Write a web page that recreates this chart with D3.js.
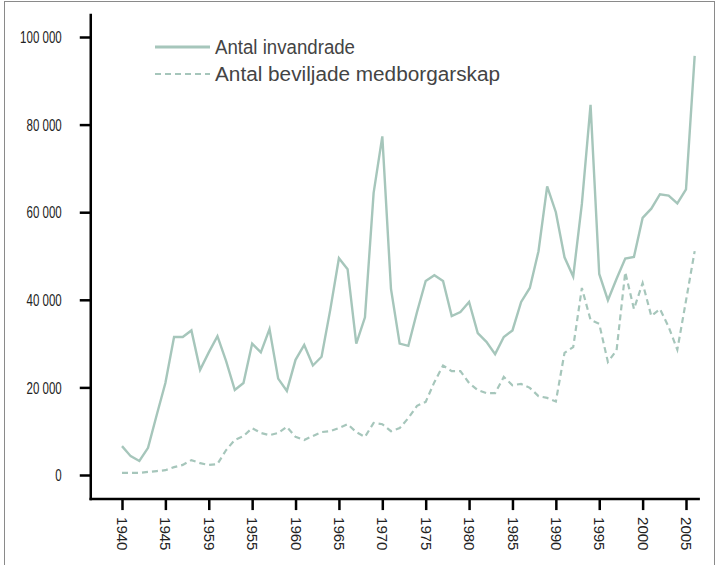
<!DOCTYPE html>
<html><head><meta charset="utf-8">
<script src="https://cdn.jsdelivr.net/npm/d3@7/dist/d3.min.js"></script>
<style>
html,body{margin:0;padding:0;background:#fff;}
svg{display:block;}
</style></head>
<body>
<script>
const years = d3.range(1940, 2007);
const invandrade = [6.6,4.3,3.2,6.2,13.7,21,31.5,31.5,33,24,28,31.7,26,19.4,21,30,28,33.3,22,19.2,
  26.3,29.7,25,27,37.7,49.5,47,30,36,64.4,77.3,42.5,30,29.5,37.2,44.3,45.6,44.3,36.3,37.2,
  39.5,32.4,30.4,27.6,31.5,33,39.5,42.7,51.1,65.9,60.0,49.7,45.3,61.9,84.5,45.9,39.9,44.8,49.4,49.8,
  58.7,60.8,64.1,63.8,62.0,65.2,95.7].map(v => v*1000);
const medborgarskap = [0.5,0.5,0.5,0.7,0.9,1.1,1.8,2.3,3.4,2.7,2.3,2.5,5.7,8,8.9,10.7,9.6,9.1,9.6,11,
  8.7,8,8.9,9.8,10,10.7,11.6,9.8,8.7,11.9,11.6,10,10.7,13,15.8,16.7,21.2,25,23.7,23.7,
  21,19.4,18.7,18.7,22.4,20.5,20.8,19.9,18,17.6,16.8,27.9,29.2,42.7,35.4,34.5,25.8,28.5,46.3,37.9,
  43.8,36.3,37.9,33.8,28.6,39.8,51.1].map(v => v*1000);
const xTickYears = [1940,1945,1950,1955,1960,1965,1970,1975,1980,1985,1990,1995,2000,2005];
const xTickLabels = ["1940","1945","1959","1955","1960","1965","1970","1975","1980","1985","1990","1995","2000","2005"];
const yTicks = [0,20000,40000,60000,80000,100000];
const seriesNames = ["Antal invandrade","Antal beviljade medborgarskap"];

const W = 716, H = 565;
const color = "#a6c6bb";
const font = "'Liberation Sans',Arial,sans-serif";

const svg = d3.select("body").append("svg").attr("width", W).attr("height", H);
svg.append("rect").attr("x",4.5).attr("y",1.5).attr("width",710).attr("height",620)
  .attr("fill","none").attr("stroke","#8a8a8a").attr("stroke-width",1);

const x = d3.scaleLinear().domain([1940, 2005]).range([122, 686]);
const y = d3.scaleLinear().domain([0, 100000]).range([475, 37]);

const axisColor = "#000";
const x0 = x(1936.4), x1 = x(2006.6);
const yTop = y(105300), yBot = y(-5500);

// axis lines
svg.append("line").attr("x1",x0).attr("x2",x0).attr("y1",yTop).attr("y2",yBot+1.25)
  .attr("stroke",axisColor).attr("stroke-width",2.5);
svg.append("line").attr("x1",x0-1.25).attr("x2",x1).attr("y1",yBot).attr("y2",yBot)
  .attr("stroke",axisColor).attr("stroke-width",2.5);

// y axis
const yAxis = d3.axisLeft(y).tickValues(yTicks).tickSize(11).tickPadding(6)
  .tickFormat(d => d3.format(",")(d).replace(/,/g, " "));
const gy = svg.append("g").attr("transform",`translate(${x0},0)`).call(yAxis);
gy.select(".domain").remove();
gy.selectAll(".tick line").attr("stroke",axisColor).attr("stroke-width",2.5);
gy.selectAll(".tick text").attr("fill","#222").style("font-family",font).style("font-size","16px")
  .attr("x",0).attr("dy","0.36em").attr("transform","translate(-29,0) scale(0.72,1)");

// x axis
const xAxis = d3.axisBottom(x).tickValues(xTickYears).tickSize(11)
  .tickFormat((d,i) => xTickLabels[i]);
const gx = svg.append("g").attr("transform",`translate(0,${yBot})`).call(xAxis);
gx.select(".domain").remove();
gx.selectAll(".tick line").attr("stroke",axisColor).attr("stroke-width",2.5);
gx.selectAll(".tick text").attr("fill","#222").style("font-family",font).style("font-size","15px")
  .attr("transform","rotate(90)").attr("text-anchor","start").attr("dy","0.36em").attr("x",18).attr("y",0);

// lines
const line = d3.line().x((d,i) => x(years[i])).y(d => y(d));
svg.append("path").datum(invandrade).attr("d",line).attr("fill","none")
  .attr("stroke",color).attr("stroke-width",2.4).attr("stroke-linejoin","miter");
svg.append("path").datum(medborgarskap).attr("d",line).attr("fill","none")
  .attr("stroke",color).attr("stroke-width",2.2).attr("stroke-dasharray","6,4");

// legend
const legendLen = [140, 285];
const lg = svg.append("g");
[0,1].forEach(i => {
  const ly = 47 + i*27;
  lg.append("line").attr("x1",155).attr("x2",210).attr("y1",ly).attr("y2",ly)
    .attr("stroke",color).attr("stroke-width", i===0 ? 3 : 2.2)
    .attr("stroke-dasharray", i===0 ? null : "6,4");
  lg.append("text").attr("x",215).attr("y",ly).attr("dy","0.36em")
    .style("font-family",font).style("font-size","20px").attr("fill","#444")
    .attr("textLength", legendLen[i]).attr("lengthAdjust","spacingAndGlyphs")
    .text(seriesNames[i]);
});
</script>
</body></html>
